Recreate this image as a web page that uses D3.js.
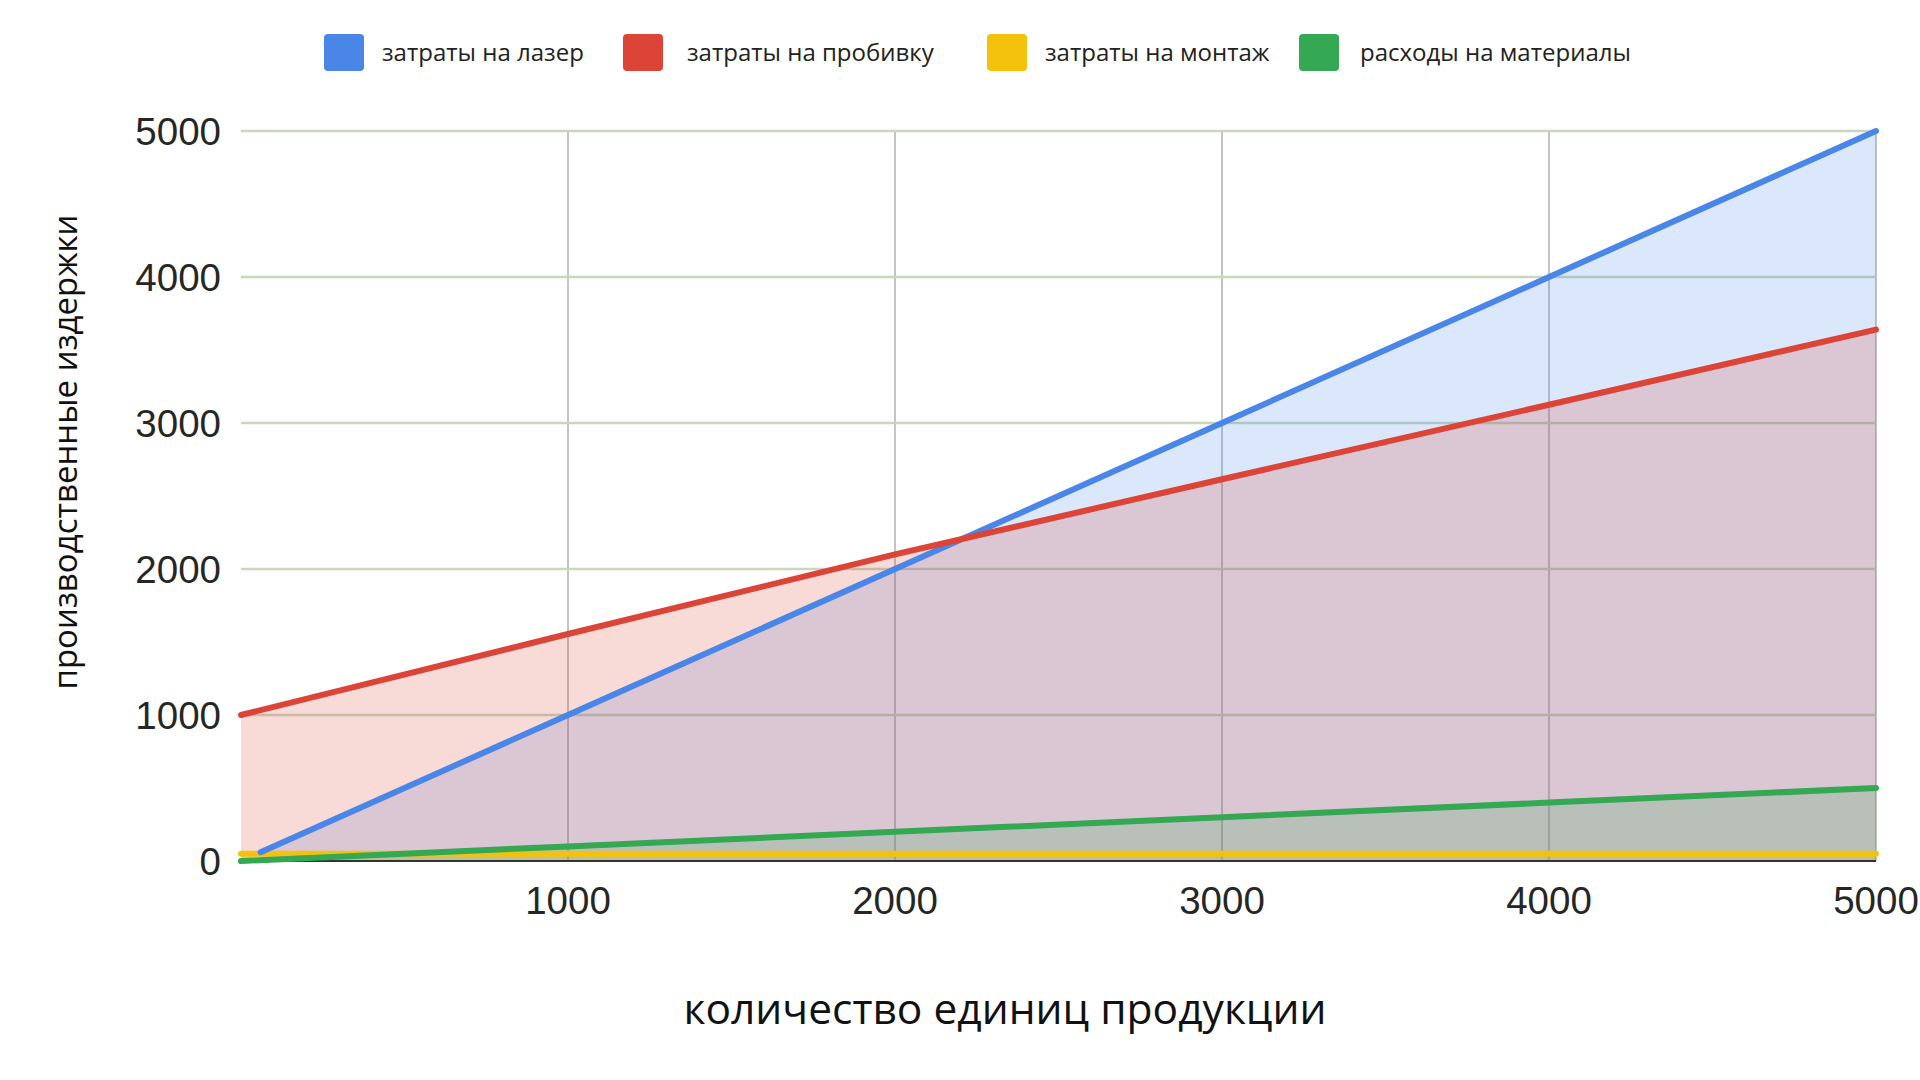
<!DOCTYPE html>
<html>
<head>
<meta charset="utf-8">
<script src="https://cdn.jsdelivr.net/npm/d3@7"></script>
<style>
    body { margin: 0; background: white; }
    svg { display: block; }
</style>
</head>
<body>
<div id="chart"></div>
<script>
// data
let seriesNames = ["затраты на лазер", "затраты на пробивку", "затраты на монтаж", "расходы на материалы"]
let seriesColors = ["#4a86e8", "#db4437", "#f4c20d", "#34a853"]

let laserX = [60, 1000, 2000, 3000, 4000, 5000]
let laserY = [60, 1000, 2000, 3000, 4000, 5000]
let punchX = [0, 1000, 2000, 3000, 4000, 5000]
let punchY = [1000, 1555, 2100, 2615, 3125, 3640]
let mountX = [0, 1000, 2000, 3000, 4000, 5000]
let mountY = [50, 50, 50, 50, 50, 50]
let materialX = [0, 1000, 2000, 3000, 4000, 5000]
let materialY = [0, 100, 200, 300, 400, 500]

let xTicks = [1000, 2000, 3000, 4000, 5000]
let yTicks = [0, 1000, 2000, 3000, 4000, 5000]

let xTitle = "количество единиц продукции"
let yTitle = "производственные издержки"

function drawChart() {
    let width = 1920, height = 1080
    let margin = {left: 241, right: 44, top: 131, bottom: 219}

    let svg = d3.select("#chart").append("svg")
        .attr("width", width)
        .attr("height", height)

    let x = d3.scaleLinear()
        .domain([0, 5000])
        .range([margin.left, width - margin.right])

    let y = d3.scaleLinear()
        .domain([0, 5000])
        .range([height - margin.bottom, margin.top])

    // grid
    let grid = svg.append("g")
    grid.selectAll("line.v")
        .data(xTicks)
        .enter().append("line")
        .attr("class", "v")
        .attr("x1", d => x(d)).attr("x2", d => x(d))
        .attr("y1", y(5000)).attr("y2", y(0))
        .attr("stroke", "#c4c4c4")
        .attr("stroke-width", 2)

    grid.selectAll("line.h")
        .data(yTicks.filter(d => d > 0))
        .enter().append("line")
        .attr("class", "h")
        .attr("x1", x(0)).attr("x2", x(5000))
        .attr("y1", d => y(d)).attr("y2", d => y(d))
        .attr("stroke", "#c7d8be")
        .attr("stroke-width", 2.5)

    let series = [
        {xs: laserX, ys: laserY},
        {xs: punchX, ys: punchY},
        {xs: mountX, ys: mountY},
        {xs: materialX, ys: materialY}
    ].map((s, i) => ({
        color: seriesColors[i],
        points: s.xs.map((v, j) => [v, s.ys[j]])
    }))

    let area = d3.area()
        .x(d => x(d[0]))
        .y0(y(0))
        .y1(d => y(d[1]))

    let line = d3.line()
        .x(d => x(d[0]))
        .y(d => y(d[1]))

    svg.append("g").selectAll("path")
        .data(series)
        .enter().append("path")
        .attr("d", d => area(d.points))
        .attr("fill", d => d.color)
        .attr("fill-opacity", 0.2)

    // baseline
    svg.append("line")
        .attr("x1", x(0)).attr("x2", x(5000))
        .attr("y1", y(0)).attr("y2", y(0))
        .attr("stroke", "#333")
        .attr("stroke-width", 2)

    // lines: yellow, green, blue, red on top
    let lineOrder = [2, 3, 0, 1]
    svg.append("g").selectAll("path")
        .data(lineOrder.map(i => series[i]))
        .enter().append("path")
        .attr("d", d => line(d.points))
        .attr("fill", "none")
        .attr("stroke", d => d.color)
        .attr("stroke-width", 6)
        .attr("stroke-linejoin", "round")
        .attr("stroke-linecap", "round")

    // tick labels
    svg.append("g").selectAll("text")
        .data(yTicks)
        .enter().append("text")
        .attr("x", x(0) - 20)
        .attr("y", d => y(d))
        .attr("dy", "0.36em")
        .attr("text-anchor", "end")
        .attr("font-family", "Liberation Sans, Arial, sans-serif")
        .attr("font-size", 38.5)
        .attr("fill", "#262626")
        .text(d => d)

    svg.append("g").selectAll("text")
        .data(xTicks)
        .enter().append("text")
        .attr("x", d => x(d))
        .attr("y", y(0) + 53)
        .attr("text-anchor", "middle")
        .attr("font-family", "Liberation Sans, Arial, sans-serif")
        .attr("font-size", 38.5)
        .attr("fill", "#262626")
        .text(d => d)

    // axis titles
    svg.append("text")
        .attr("x", 1005)
        .attr("y", 1024)
        .attr("text-anchor", "middle")
        .attr("font-family", "Open Sans, sans-serif")
        .attr("font-size", 42.5)
        .attr("fill", "#111")
        .text(xTitle)

    svg.append("text")
        .attr("transform", "translate(77,452) rotate(-90)")
        .attr("text-anchor", "middle")
        .attr("font-family", "Open Sans, sans-serif")
        .attr("font-size", 33)
        .attr("fill", "#111")
        .text(yTitle)

    // legend, item positions as in the picture
    let legendX = [324, 623, 987, 1299]
    let legendTextGap = [58, 64, 58, 61]
    let legend = svg.append("g")
    seriesNames.forEach((name, i) => {
        legend.append("rect")
            .attr("x", legendX[i]).attr("y", 34)
            .attr("width", 40).attr("height", 37)
            .attr("rx", 4)
            .attr("fill", seriesColors[i])
        legend.append("text")
            .attr("x", legendX[i] + legendTextGap[i])
            .attr("y", 53)
            .attr("dy", "0.35em")
            .attr("font-family", "Open Sans, sans-serif")
            .attr("font-size", 24)
            .attr("fill", "#222")
            .text(name)
    })
}

drawChart()
</script>
</body>
</html>
